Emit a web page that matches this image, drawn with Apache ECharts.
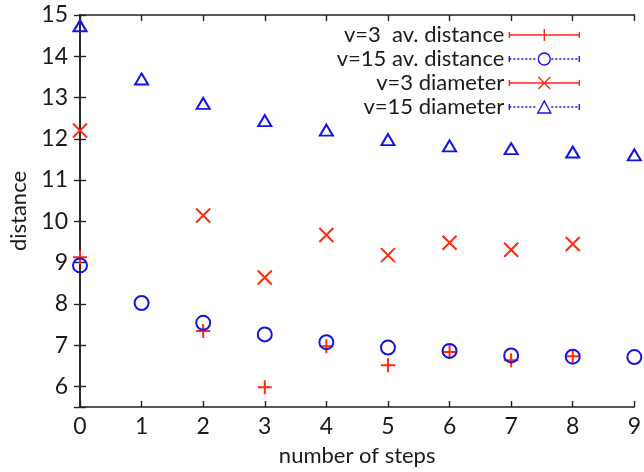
<!DOCTYPE html>
<html>
<head>
<meta charset="utf-8">
<script src="https://cdn.jsdelivr.net/npm/echarts@6/dist/echarts.min.js"></script>
<style>
  html, body { margin: 0; padding: 0; background: #fff; }
  #main { width: 644px; height: 472px; }
</style>
</head>
<body>
<div id="main"></div>
<script>
// number of steps
var steps = [0, 1, 2, 3, 4, 5, 6, 7, 8, 9];
// values, null = no point
var avDist3 = [9.13, null, 7.34, 5.98, 6.97, 6.51, 6.83, 6.63, 6.73, null];
var avDist15 = [8.93, 8.02, 7.54, 7.26, 7.07, 6.94, 6.86, 6.75, 6.72, 6.71];
var diam3 = [12.2, null, 10.14, 8.64, 9.67, 9.18, 9.48, 9.31, 9.45, null];
var diam15 = [14.74, 13.45, 12.86, 12.44, 12.21, 11.98, 11.83, 11.76, 11.68, 11.61];
var names = ['v=3  av. distance', 'v=15 av. distance', 'v=3 diameter', 'v=15 diameter'];

var RED = '#ff2a10';
var BLUE = '#1414e6';
var FONT = 'Lato';

function pairs(vals) {
  var out = [];
  for (var i = 0; i < steps.length; i++) {
    if (vals[i] != null) out.push([steps[i], vals[i]]);
  }
  return out;
}

// legend icons: error bar line with the marker in the middle (70 x 12 box)
function dotted(from, to) {
  var s = '';
  for (var x = from; x < to; x += 4) {
    s += 'M' + x + ',6 L' + Math.min(x + 2, to) + ',6 ';
  }
  return s;
}
var capsSolid = 'M0,3 L0,9 M70,3 L70,9 M0,6 L70,6 ';
var capsDot = 'M0,3 L0,9 M70,3 L70,9 ' + dotted(0, 28) + dotted(42, 70);
var icons = [
  'path://' + capsSolid + 'M35,0 L35,12',
  'path://' + capsDot + 'M41,6 A6,6 0 1,1 29,6 A6,6 0 1,1 41,6 Z',
  'path://' + capsSolid + 'M29,0 L41,12 M41,0 L29,12',
  'path://' + capsDot + 'M35,0 L41.5,12 L28.5,12 Z'
];

var markers = [
  'path://M0,7 L14,7 M7,0 L7,14',
  'path://M14,7 A7,7 0 1,1 0,7 A7,7 0 1,1 14,7 Z',
  'path://M0,0 L14,14 M14,0 L0,14',
  'path://M7,0 L14,12 L0,12 Z'
];
var colors = [RED, BLUE, RED, BLUE];
var sizes = [14, 14, 14, [13, 11]];
var datas = [avDist3, avDist15, diam3, diam15];

var series = [];
var legendData = [];
for (var k = 0; k < 4; k++) {
  series.push({
    name: names[k],
    type: 'scatter',
    data: pairs(datas[k]),
    symbol: markers[k],
    symbolSize: sizes[k],
    itemStyle: { color: 'transparent', borderColor: colors[k], borderWidth: 2, opacity: 1 },
    emphasis: { disabled: true }
  });
  legendData.push({
    name: names[k],
    icon: icons[k],
    itemStyle: { color: 'transparent', borderColor: colors[k], borderWidth: 1.4, opacity: 1 }
  });
}

var axisLine = { show: true, lineStyle: { color: '#222', width: 1.6 } };
var tick = { show: true, inside: true, length: 6, lineStyle: { color: '#222', width: 1.4 } };

var myChart = echarts.init(document.getElementById('main'));
var option = {
  animation: false,
  backgroundColor: '#fff',
  grid: { left: 72, right: 6, top: 15, bottom: 57 },
  legend: {
    orient: 'vertical',
    align: 'right',
    right: 59,
    top: 19,
    itemWidth: 70,
    itemHeight: 12,
    itemGap: 2,
    selectedMode: false,
    textStyle: { fontFamily: FONT, fontSize: 22, color: '#1a1a1a' },
    data: legendData
  },
  xAxis: [{
    type: 'value',
    min: 0,
    max: 9,
    interval: 1,
    name: 'number of steps',
    nameLocation: 'middle',
    nameGap: 38,
    nameTextStyle: { fontFamily: FONT, fontSize: 22, color: '#1a1a1a' },
    axisLine: axisLine,
    axisTick: tick,
    splitLine: { show: false },
    axisLabel: { fontFamily: FONT, fontSize: 23, color: '#1a1a1a', margin: 8 }
  }, {
    type: 'value',
    position: 'top',
    min: 0,
    max: 9,
    interval: 1,
    axisLine: axisLine,
    axisTick: tick,
    splitLine: { show: false },
    axisLabel: { show: false }
  }],
  yAxis: [{
    type: 'value',
    min: 5.5,
    max: 15,
    splitNumber: 10,
    name: 'distance',
    nameLocation: 'middle',
    nameGap: 50,
    nameTextStyle: { fontFamily: FONT, fontSize: 22, color: '#1a1a1a' },
    axisLine: axisLine,
    axisTick: tick,
    splitLine: { show: false },
    axisLabel: {
      fontFamily: FONT, fontSize: 23, color: '#1a1a1a', margin: 12,
      formatter: function (v) { return v % 1 === 0 ? String(v) : ''; }
    }
  }, {
    type: 'value',
    position: 'right',
    min: 5.5,
    max: 15,
    splitNumber: 10,
    axisLine: axisLine,
    axisTick: tick,
    splitLine: { show: false },
    axisLabel: { show: false }
  }],
  series: series
};
option && myChart.setOption(option);
</script>
</body>
</html>
